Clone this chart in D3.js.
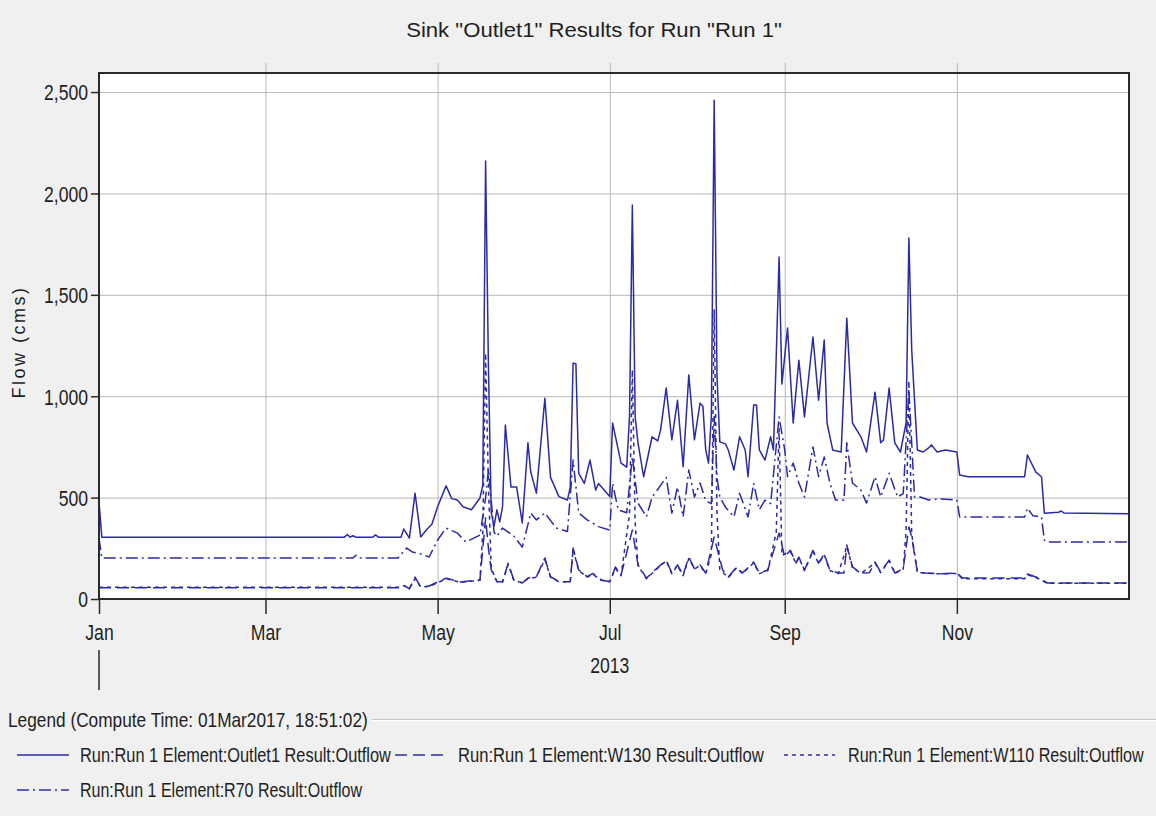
<!DOCTYPE html>
<html>
<head>
<meta charset="utf-8">
<script src="https://cdn.jsdelivr.net/npm/d3@7"></script>
<style>
  body { margin: 0; background: #f0f0f0; }
  svg { display: block; }
  text { font-family: "Liberation Sans", Arial, sans-serif; fill: #1e1e1e; }
</style>
</head>
<body>
<svg id="chart" width="1156" height="816"></svg>
<script>
const title = 'Sink "Outlet1" Results for Run "Run 1"';
const yLabel = "Flow (cms)";
const yearLabel = "2013";
const yTicks = [0, 500, 1000, 1500, 2000, 2500];
const yMax = 2594;
const monthTicks = ["2013-01-01", "2013-03-01", "2013-05-01", "2013-07-01", "2013-09-01", "2013-11-01"];
const legendTitle = "Legend (Compute Time: 01Mar2017, 18:51:02)";
const seriesNames = [
  "Run:Run 1 Element:Outlet1 Result:Outflow",
  "Run:Run 1 Element:W130 Result:Outflow",
  "Run:Run 1 Element:W110 Result:Outflow",
  "Run:Run 1 Element:R70 Result:Outflow"
];

// [day of year (0 = 1 Jan 2013), flow in cms]
const outlet1 = [
  [0,480],[1,305],[87,305],[88,318],[89,305],[90,312],[91,305],[97,305],[98,316],[99,305],[107,305],
  [108,345],[110,300],[112,522],[114,306],[116,340],[118,370],[120,455],[123,558],[125,495],[127,488],
  [129,455],[132,440],[135,498],[136,560],[137,2160],[138,1150],[139,425],[140,360],[141,440],[142,380],
  [143,455],[144,858],[146,552],[148,552],[150,375],[152,770],[153,626],[155,522],[158,990],[160,600],
  [163,505],[166,488],[167,552],[168,1163],[169,1160],[170,620],[172,570],[174,685],[176,537],[177,570],
  [181,505],[182,868],[185,670],[187,650],[188,900],[189,1943],[190,900],[191,770],[193,603],[196,800],
  [198,780],[199,833],[201,1040],[203,785],[205,980],[207,652],[209,1105],[211,785],[213,966],[214,950],
  [215,735],[216,670],[217,900],[218,2460],[219,1100],[220,775],[222,765],[223,735],[225,636],[227,800],
  [229,735],[230,603],[232,957],[233,957],[234,735],[236,685],[238,800],[239,735],[240,1200],[241,1686],
  [242,1060],[244,1336],[246,868],[248,1178],[250,898],[253,1292],[255,980],[257,1277],[258,868],[260,735],
  [263,725],[265,1385],[267,868],[270,800],[272,725],[275,1020],[277,770],[278,785],[280,1040],[282,770],
  [284,725],[286,868],[287,1780],[288,1228],[290,735],[292,725],[294,745],[295,760],[297,725],[300,735],
  [304,725],[305,611],[308,603],[328,603],[329,710],[332,626],[334,603],[335,423],[340,428],[341,434],
  [342,424],[365,420]
];
const w130 = [
  [0,55],[106,55],[108,69],[110,50],[112,108],[114,59],[117,64],[120,84],[123,103],[128,84],[135,94],
  [137,400],[138,250],[139,143],[141,85],[143,85],[145,177],[147,94],[150,79],[152,103],[155,110],
  [158,202],[160,110],[163,85],[167,85],[168,251],[170,143],[173,110],[175,126],[178,94],[181,85],
  [183,158],[185,118],[189,340],[191,168],[194,103],[197,143],[201,192],[203,128],[205,168],[207,118],
  [209,207],[211,150],[213,168],[215,128],[218,306],[221,143],[223,108],[226,158],[228,128],[232,182],
  [234,128],[237,143],[241,325],[243,207],[245,240],[247,177],[248,207],[250,143],[253,240],[255,177],
  [257,222],[259,143],[262,128],[264,128],[265,266],[267,158],[270,128],[273,130],[275,182],[277,133],
  [280,192],[282,128],[285,150],[287,355],[288,306],[290,133],[293,128],[298,125],[304,128],[306,103],
  [328,103],[329,123],[333,103],[336,79],[365,79]
];
const w110 = [
  [0,58],[106,58],[108,66],[110,52],[112,100],[114,60],[117,62],[120,80],[123,100],[128,82],[135,92],
  [136,330],[137,1213],[138,560],[139,150],[141,86],[143,84],[145,170],[147,92],[150,80],[152,100],
  [155,108],[158,195],[160,108],[163,84],[167,86],[168,245],[170,140],[173,108],[175,122],[178,92],
  [181,86],[183,150],[185,115],[188,420],[189,1130],[190,380],[191,165],[194,100],[197,140],[201,188],
  [203,125],[205,165],[207,115],[209,200],[211,148],[213,165],[215,125],[217,220],[218,1425],[219,420],
  [220,145],[223,106],[226,155],[228,125],[232,178],[234,125],[237,140],[240,330],[241,840],[242,215],
  [245,235],[247,175],[248,205],[250,140],[253,235],[255,175],[257,218],[259,140],[262,126],[265,260],
  [267,155],[270,126],[275,178],[277,130],[280,188],[282,126],[285,148],[286,330],[287,1075],[288,320],
  [290,130],[298,124],[304,126],[306,100],[328,100],[329,120],[333,100],[336,78],[365,78]
];
const r70 = [
  [0,300],[1,202],[90,202],[91,215],[92,202],[106,202],[107,220],[109,251],[111,232],[114,222],[117,207],
  [120,291],[123,350],[127,325],[130,281],[135,315],[137,500],[138,640],[140,330],[141,310],[143,350],
  [147,310],[150,256],[153,424],[155,390],[158,424],[162,350],[166,333],[168,685],[170,424],[173,390],
  [177,357],[181,340],[182,570],[184,440],[187,425],[189,700],[191,473],[194,405],[196,503],[198,540],
  [201,600],[203,424],[205,552],[207,405],[209,636],[211,503],[213,572],[215,485],[217,470],[218,900],
  [219,600],[220,503],[222,453],[225,405],[227,522],[230,405],[232,570],[234,440],[236,488],[238,470],
  [241,898],[243,735],[244,603],[246,670],[248,572],[250,503],[253,750],[255,603],[257,700],[259,572],
  [261,488],[264,488],[265,770],[267,572],[270,537],[272,473],[275,603],[277,503],[280,620],[283,503],
  [285,520],[287,1030],[289,503],[291,503],[294,488],[298,493],[304,488],[305,405],[328,405],[329,448],
  [331,410],[334,405],[335,290],[336,281],[365,281]
];

const lineColor = "#2b2ba6";
const series = [
  { name: seriesNames[1], data: w130, dash: "12,6" },
  { name: seriesNames[2], data: w110, dash: "4,4" },
  { name: seriesNames[3], data: r70, dash: "12,4,2,4" },
  { name: seriesNames[0], data: outlet1, dash: null }
];

const svg = d3.select("#chart");
const plot = { left: 99, right: 1129, top: 73, bottom: 599 };
const start = new Date(2013, 0, 1);
const toDate = d => d3.timeDay.offset(start, d);
const narrow = 0.8; // the source font is condensed

const x = d3.scaleTime().domain([start, new Date(2014, 0, 1)]).range([plot.left, plot.right]);
const y = d3.scaleLinear().domain([0, yMax]).range([plot.bottom, plot.top]);
const monthDates = monthTicks.map(s => d3.timeParse("%Y-%m-%d")(s));

// squeeze a text horizontally so it spans the given width
function fitText(sel, width) {
  const w = sel.node().getComputedTextLength();
  const tx = +sel.attr("data-x"), ty = +sel.attr("data-y");
  sel.attr("x", 0).attr("y", 0)
    .attr("transform", `translate(${tx},${ty}) scale(${width / w},1)`);
}

function addText(px, py, str, size, anchor) {
  return svg.append("text")
    .attr("data-x", px).attr("data-y", py)
    .attr("text-anchor", anchor || "start")
    .style("font-size", size + "px")
    .text(str);
}

// title
fitText(addText(594, 37, title, 21, "middle"), 376);

// plot background
svg.append("rect")
  .attr("x", plot.left).attr("y", plot.top)
  .attr("width", plot.right - plot.left).attr("height", plot.bottom - plot.top)
  .attr("fill", "#ffffff");

// grid
svg.append("g")
  .attr("transform", `translate(0,${plot.bottom})`)
  .call(d3.axisBottom(x).tickValues(monthDates.slice(1)).tickSize(-(plot.bottom - plot.top + 10)).tickFormat(""))
  .call(g => g.select(".domain").remove())
  .selectAll(".tick line").attr("stroke", "#b8b8b8");

svg.append("g")
  .attr("transform", `translate(${plot.left},0)`)
  .call(d3.axisLeft(y).tickValues(yTicks.slice(1)).tickSize(-(plot.right - plot.left)).tickFormat(""))
  .call(g => g.select(".domain").remove())
  .selectAll(".tick line").attr("stroke", "#b8b8b8");

// series lines
const line = d3.line()
  .x(d => x(toDate(d[0])))
  .y(d => y(d[1]));

const lines = svg.append("g");
series.forEach(s => {
  lines.append("path")
    .datum(s.data)
    .attr("fill", "none")
    .attr("stroke", lineColor)
    .attr("stroke-width", 1.5)
    .attr("stroke-linejoin", "round")
    .attr("stroke-dasharray", s.dash)
    .attr("d", line);
});

// plot border
svg.append("rect")
  .attr("x", plot.left).attr("y", plot.top)
  .attr("width", plot.right - plot.left).attr("height", plot.bottom - plot.top)
  .attr("fill", "none").attr("stroke", "#2a2a2a").attr("stroke-width", 2);

// y axis
const gy = svg.append("g")
  .attr("transform", `translate(${plot.left},0)`)
  .call(d3.axisLeft(y).tickValues(yTicks).tickFormat(d3.format(",")).tickSize(8).tickPadding(3))
  .call(g => g.select(".domain").remove());
gy.selectAll(".tick line").attr("stroke", "#2a2a2a").attr("stroke-width", 1.5);
gy.selectAll(".tick text")
  .attr("x", -11 / narrow).attr("dy", "0.36em")
  .attr("transform", `scale(${narrow},1)`)
  .style("font-size", "22px").attr("fill", "#1e1e1e");

svg.append("text")
  .attr("transform", `translate(25,${(plot.top + plot.bottom) / 2 + 6}) rotate(-90)`)
  .attr("text-anchor", "middle")
  .style("font-size", "18px")
  .style("letter-spacing", "2.5px")
  .text(yLabel);

// x axis
const gx = svg.append("g")
  .attr("transform", `translate(0,${plot.bottom})`)
  .call(d3.axisBottom(x).tickValues(monthDates).tickFormat(d3.timeFormat("%b")).tickSize(15))
  .call(g => g.select(".domain").remove());
gx.selectAll(".tick line").attr("stroke", "#2a2a2a").attr("stroke-width", 1.5);
gx.selectAll(".tick text")
  .attr("y", 41).attr("dy", null)
  .attr("transform", `scale(${narrow},1)`)
  .style("font-size", "22px").attr("fill", "#1e1e1e");

// year marker
svg.append("line")
  .attr("x1", x(start)).attr("x2", x(start))
  .attr("y1", 650).attr("y2", 690)
  .attr("stroke", "#2a2a2a").attr("stroke-width", 1.5);
const yr = addText(x(new Date(2013, 6, 1)), 673, yearLabel, 22, "middle");
yr.attr("x", 0).attr("y", 0)
  .attr("transform", `translate(${yr.attr("data-x")},${yr.attr("data-y")}) scale(${narrow},1)`);

// legend
fitText(addText(8, 727, legendTitle, 20), 360);
svg.append("line").attr("x1", 372).attr("x2", 1156).attr("y1", 719.5).attr("y2", 719.5)
  .attr("stroke", "#c6c6c6");
svg.append("line").attr("x1", 372).attr("x2", 1156).attr("y1", 720.5).attr("y2", 720.5)
  .attr("stroke", "#ffffff");

const legendItems = [
  { s: series[3], x0: 17, x1: 69, tx: 80, tw: 311, row: 0 },
  { s: series[0], x0: 395, x1: 446, tx: 458, tw: 306, row: 0 },
  { s: series[1], x0: 784, x1: 835, tx: 848, tw: 296, row: 0 },
  { s: series[2], x0: 17, x1: 69, tx: 80, tw: 282, row: 1 }
];
const rowY = [762, 797];

legendItems.forEach(it => {
  const by = rowY[it.row];
  svg.append("line")
    .attr("x1", it.x0).attr("x2", it.x1)
    .attr("y1", by - 7).attr("y2", by - 7)
    .attr("stroke", lineColor).attr("stroke-width", 1.5)
    .attr("stroke-dasharray", it.s.dash);
  fitText(addText(it.tx, by, it.s.name, 20), it.tw);
});
</script>
</body>
</html>
